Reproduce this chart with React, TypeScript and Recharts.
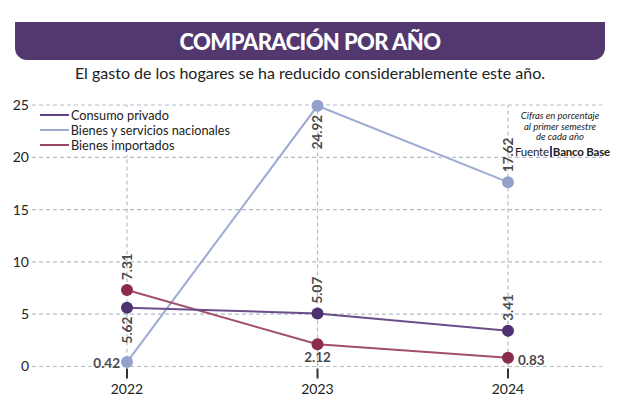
import { LineChart, Line, XAxis, YAxis, CartesianGrid, LabelList, ReferenceLine } from "recharts"

const years = ["2022", "2023", "2024"]
const consumoPrivado = [5.62, 5.07, 3.41]
const bienesNacionales = [0.42, 24.92, 17.62]
const bienesImportados = [7.31, 2.12, 0.83]
const yTicks = [0, 5, 10, 15, 20, 25]

// where each value label sits relative to its dot
const consumoLabels = ["below", "above", "above"]
const nacionalesLabels = ["left", "below", "above"]
const importadosLabels = ["above", "under", "right"]

const data = years.map((year, i) => ({
  year,
  consumo: consumoPrivado[i],
  nacionales: bienesNacionales[i],
  importados: bienesImportados[i],
}))

const legendItems = [
  { name: "Consumo privado", color: "#5E4283" },
  { name: "Bienes y servicios nacionales", color: "#9DAAD2" },
  { name: "Bienes importados", color: "#9A4663" },
]

const FONT = "Lato, 'Noto Sans', sans-serif"
const GRID = "#B3BDCA"

function makeLabel(places: string[]) {
  return (props: any) => {
    const { x, y, value, index } = props
    const place = places[index]
    const style = { fontFamily: FONT, fontSize: 13.5, fontWeight: 700, fill: "#4A4A4A" }
    if (place === "above") {
      return (
        <text x={x} y={y - 10} transform={`rotate(-90 ${x} ${y - 10})`} textAnchor="start" dominantBaseline="central" {...style}>
          {value.toFixed(2)}
        </text>
      )
    }
    if (place === "below") {
      return (
        <text x={x} y={y + 9} transform={`rotate(-90 ${x} ${y + 9})`} textAnchor="end" dominantBaseline="central" {...style}>
          {value.toFixed(2)}
        </text>
      )
    }
    if (place === "left") {
      return (
        <text x={x - 7} y={y + 1} textAnchor="end" dominantBaseline="central" {...style}>
          {value.toFixed(2)}
        </text>
      )
    }
    if (place === "right") {
      return (
        <text x={x + 10} y={y + 2} textAnchor="start" dominantBaseline="central" {...style}>
          {value.toFixed(2)}
        </text>
      )
    }
    return (
      <text x={x} y={y + 13} textAnchor="middle" dominantBaseline="central" {...style}>
        {value.toFixed(2)}
      </text>
    )
  }
}

function YearTick(props: any) {
  const { x, y, payload } = props
  return (
    <g>
      <line x1={x} x2={x} y1={y + 2} y2={y + 12} stroke="#333" strokeWidth={2} />
      <text x={x} y={y + 27} textAnchor="middle" fontFamily={FONT} fontSize={14} fill="#222">
        {payload.value}
      </text>
    </g>
  )
}

export default function App() {
  return (
    <div style={{ position: "relative", width: 620, height: 409, background: "#fff", overflow: "hidden" }}>
      <style>{`body{margin:0}`}</style>
      <div
        style={{
          position: "absolute",
          left: 15,
          top: 22,
          width: 590,
          height: 38,
          background: "#53376F",
          borderRadius: "0 0 12px 12px",
          color: "#fff",
          fontFamily: FONT,
          fontWeight: 900,
          fontSize: 22,
          letterSpacing: -0.6,
          lineHeight: "39px",
          textAlign: "center",
        }}
      >
        COMPARACIÓN POR AÑO
      </div>
      <div
        style={{
          position: "absolute",
          left: 0,
          top: 62,
          width: 620,
          textAlign: "center",
          fontFamily: FONT,
          fontSize: 16,
          lineHeight: "22px",
          color: "#222",
        }}
      >
        El gasto de los hogares se ha reducido considerablemente este año.
      </div>

      <LineChart width={620} height={409} data={data} margin={{ top: 105, right: 18, bottom: 2, left: 0 }}>
        <CartesianGrid stroke={GRID} strokeDasharray="4 3" strokeWidth={1.2} vertical={false} />
        <XAxis
          dataKey="year"
          axisLine={false}
          tickLine={false}
          tickSize={0}
          tickMargin={0}
          height={40.5}
          padding={{ left: 95, right: 94 }}
          tick={<YearTick />}
          interval={0}
        />
        <YAxis
          domain={[0, 25]}
          ticks={yTicks}
          width={32}
          axisLine={false}
          tickLine={false}
          tickSize={0}
          tickMargin={3}
          tick={{ fontFamily: FONT, fontSize: 14, fill: "#222" }}
        />
        {years.map((year) => (
          <ReferenceLine key={year} x={year} stroke={GRID} strokeDasharray="4 3" strokeWidth={1.2} />
        ))}
        <Line
          dataKey="nacionales"
          stroke="#9DAAD2"
          strokeWidth={2}
          dot={{ r: 6, fill: "#93A1CB", stroke: "none" }}
          isAnimationActive={false}
        >
          <LabelList dataKey="nacionales" content={makeLabel(nacionalesLabels)} />
        </Line>
        <Line
          dataKey="importados"
          stroke="#A14F6A"
          strokeWidth={2}
          dot={{ r: 6, fill: "#8B2C4B", stroke: "none" }}
          isAnimationActive={false}
        >
          <LabelList dataKey="importados" content={makeLabel(importadosLabels)} />
        </Line>
        <Line
          dataKey="consumo"
          stroke="#6A4E8A"
          strokeWidth={2}
          dot={{ r: 6, fill: "#4D3170", stroke: "none" }}
          isAnimationActive={false}
        >
          <LabelList dataKey="consumo" content={makeLabel(consumoLabels)} />
        </Line>
      </LineChart>

      <div
        style={{
          position: "absolute",
          left: 38,
          top: 107,
          width: 192,
          height: 48,
          background: "#fff",
          fontFamily: FONT,
          fontSize: 12.7,
          color: "#222",
        }}
      >
        {legendItems.map((item) => (
          <div key={item.name} style={{ display: "flex", alignItems: "center", height: 15 }}>
            <span style={{ display: "inline-block", width: 29, height: 2, background: item.color, marginLeft: 2, marginRight: 2 }} />
            <span style={{ whiteSpace: "nowrap" }}>{item.name}</span>
          </div>
        ))}
      </div>

      <div
        style={{
          position: "absolute",
          left: 515,
          top: 111,
          width: 90,
          textAlign: "center",
          fontFamily: FONT,
          color: "#222",
        }}
      >
        <div style={{ fontStyle: "italic", fontSize: 9.5, lineHeight: "10.5px" }}>
          Cifras en porcentaje
          <br />
          al primer semestre
          <br />
          de cada año
        </div>
        <div style={{ fontSize: 11.5, lineHeight: "15px", marginTop: 1, whiteSpace: "nowrap", letterSpacing: -0.2 }}>
          Fuente<span style={{ display: "inline-block", width: 2, height: 11, background: "#53376F", margin: "0 1px", verticalAlign: "-1px" }} />
          <b>Banco Base</b>
        </div>
      </div>
    </div>
  )
}
